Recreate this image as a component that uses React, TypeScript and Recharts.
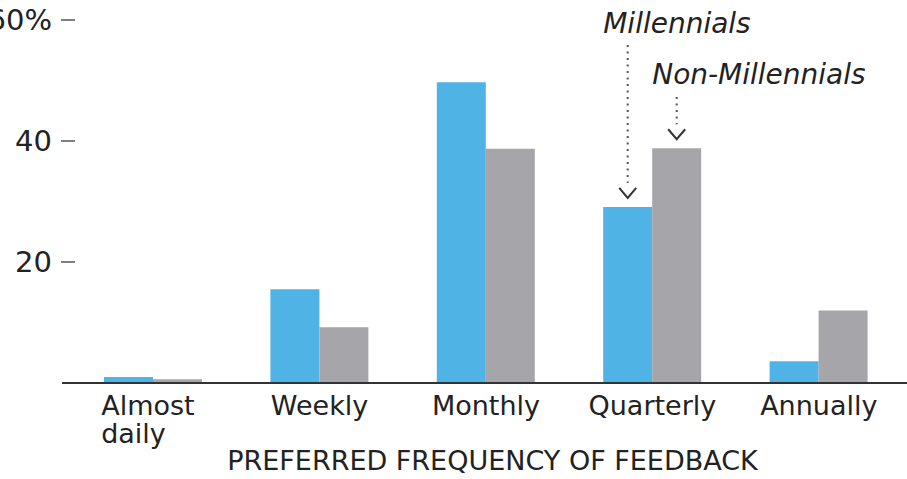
import React from 'react';
import { BarChart, Bar, XAxis, YAxis, Label } from 'recharts';

const categories = ['Almost daily', 'Weekly', 'Monthly', 'Quarterly', 'Annually'];
const millennials = [1.0, 15.5, 49.7, 29.1, 3.6];
const nonMillennials = [0.6, 9.2, 38.7, 38.8, 12.0];
const yTicks = [20, 40, 60];

const data = categories.map((name, i) => ({
  name,
  millennials: millennials[i],
  nonMillennials: nonMillennials[i],
}));

const FONT = '"DejaVu Sans", sans-serif';
const BLUE = '#50b3e6';
const GRAY = '#a6a5aa';
const INK = '#222';

const YTick = (props: any) => {
  const { x, y, payload } = props;
  const txt = payload.value === 60 ? '60%' : String(payload.value);
  return (
    <g>
      <text x={x - 10} y={y} dy="0.36em" textAnchor="end" fontSize={29} fontFamily={FONT} fill={INK}>
        {txt}
      </text>
      <line x1={x - 1} x2={x + 13} y1={y} y2={y} stroke="#555" strokeWidth={1.5} />
    </g>
  );
};

const XTick = (props: any) => {
  const { x, y, payload } = props;
  const lines = String(payload.value).split(' ');
  if (payload.value === 'Almost daily') {
    const half = 52;
    return (
      <text x={x - half} y={y + 32} textAnchor="start" fontSize={27} fontFamily={FONT} fill={INK}>
        {lines.map((l, i) => (
          <tspan key={i} x={x - half} dy={i === 0 ? 0 : 28}>{l}</tspan>
        ))}
      </text>
    );
  }
  return (
    <text x={x} y={y + 32} textAnchor="middle" fontSize={27} fontFamily={FONT} fill={INK}>
      {payload.value}
    </text>
  );
};

// dotted arrow + label pointing at the Quarterly bars
const makeCallout = (text: string, textY: number, lineTop: number) => (props: any) => {
  const { x, y, width, index } = props;
  if (index !== 3) return null;
  const cx = x + width / 2;
  return (
    <g>
      <text x={x} y={textY} fontSize={28} fontStyle="italic" fontFamily={FONT} fill={INK}>
        {text}
      </text>
      <line x1={cx} x2={cx} y1={lineTop} y2={y - 24} stroke="#555" strokeWidth={2} strokeDasharray="2 4.5" />
      <polyline
        points={`${cx - 8.5},${y - 19} ${cx},${y - 9} ${cx + 8.5},${y - 19}`}
        fill="none"
        stroke="#333"
        strokeWidth={2}
      />
    </g>
  );
};

export default function App() {
  return (
    <div style={{ position: 'absolute', left: 0, top: 0, background: '#fff' }}>
      <BarChart
        width={907}
        height={479}
        data={data}
        margin={{ top: 20, right: 0, bottom: 0, left: 0 }}
        barGap={0}
        barSize={49}
      >
        <YAxis
          width={62}
          domain={[0, 60]}
          ticks={yTicks}
          axisLine={false}
          tickLine={false}
          tickSize={0}
          tickMargin={0}
          tick={<YTick />}
          interval={0}
        />
        <XAxis
          dataKey="name"
          height={96}
          padding={{ left: 8, right: 5 }}
          axisLine={{ stroke: '#333', strokeWidth: 2 }}
          tickLine={false}
          tickSize={0}
          tickMargin={0}
          tick={<XTick />}
          interval={0}
        >
          <Label
            content={(p: any) => {
              const vb = p.viewBox;
              return (
                <text
                  x={vb.x + vb.width / 2 + 8}
                  y={vb.y + 87}
                  textAnchor="middle"
                  fontSize={27}
                  fontFamily={FONT}
                  fill={INK}
                >
                  PREFERRED FREQUENCY OF FEEDBACK
                </text>
              );
            }}
          />
        </XAxis>
        <Bar
          dataKey="millennials"
          fill={BLUE}
          isAnimationActive={false}
          label={makeCallout('Millennials', 33, 45)}
        />
        <Bar
          dataKey="nonMillennials"
          fill={GRAY}
          isAnimationActive={false}
          label={makeCallout('Non-Millennials', 84, 97)}
        />
      </BarChart>
    </div>
  );
}
